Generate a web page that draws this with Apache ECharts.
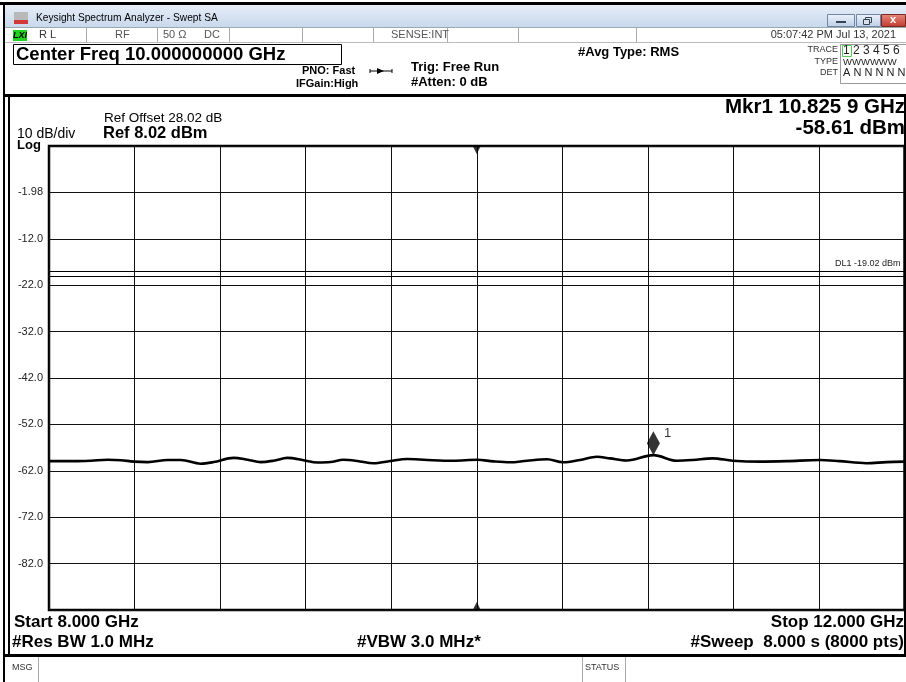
<!DOCTYPE html>
<html><head><meta charset="utf-8">
<script src="https://cdn.jsdelivr.net/npm/echarts@6/dist/echarts.min.js"></script>
<style>html,body{margin:0;padding:0;background:#fff}#c{width:906px;height:682px}</style>
</head><body><div id="c"></div>
<script>
// ---- data ----
const freqGHz = [8.0, 8.117, 8.196, 8.275, 8.336, 8.397, 8.462, 8.555, 8.616, 8.709, 8.770, 8.863, 8.929, 8.990, 9.050, 9.115, 9.190, 9.255, 9.316, 9.377, 9.442, 9.517, 9.596, 9.675, 9.769, 9.890, 10.002, 10.077, 10.156, 10.235, 10.329, 10.403, 10.483, 10.562, 10.623, 10.702, 10.8259, 10.935, 11.010, 11.103, 11.197, 11.323, 11.449, 11.603, 11.696, 11.822, 11.916, 12.0];
const levelDbm = [-59.9, -59.9, -59.8, -59.6, -59.7, -60.0, -60.1, -59.65, -59.65, -60.45, -60.1, -59.2, -59.6, -60.1, -59.8, -59.2, -59.7, -60.2, -60.1, -59.6, -59.85, -60.35, -59.85, -59.45, -59.65, -59.8, -59.6, -59.95, -60.15, -59.8, -59.5, -60.15, -59.65, -58.95, -59.3, -59.75, -58.61, -59.8, -59.65, -59.3, -59.8, -60.0, -59.9, -59.65, -59.9, -60.35, -60.1, -60.0];
const markerFreq = 10.8259;
const markerLevel = -58.61;
const displayLines = [-19.02, -19.95];
const refLevel = 8.02;
const dbPerDiv = 10;
const numDiv = 10;
const startGHz = 8, stopGHz = 12, centerGHz = 10;
const yTickLabels = ['-1.98', '-12.0', '-22.0', '-32.0', '-42.0', '-52.0', '-62.0', '-72.0', '-82.0'];

const chart = echarts.init(document.getElementById('c'), null, {renderer: 'canvas'});
const F = 'Liberation Sans, Arial, sans-serif';
function T(text, x, y, size, opts) {
  opts = opts || {};
  return {type: 'text', x: x, y: y, z: 100, silent: true, style: {
    text: text, font: (opts.w || 'normal') + ' ' + size + 'px ' + F,
    fill: opts.c || '#000', textAlign: opts.a || 'left', textVerticalAlign: 'middle'}};
}
function R(x, y, w, h, fill, stroke, lw) {
  return {type: 'rect', z: 90, silent: true, shape: {x: x, y: y, width: w, height: h},
    style: {fill: fill || 'none', stroke: stroke || 'none', lineWidth: lw || 1}};
}
function L(x1, y1, x2, y2, c, lw) {
  return {type: 'line', z: 90, silent: true, shape: {x1: x1, y1: y1, x2: x2, y2: y2},
    style: {stroke: c || '#000', lineWidth: lw || 1}};
}
const titleGrad = new echarts.graphic.LinearGradient(0, 0, 0, 1, [{offset: 0, color: '#e6eef8'}, {offset: 1, color: '#c9d8ec'}]);
const btnGrad = new echarts.graphic.LinearGradient(0, 0, 0, 1, [{offset: 0, color: '#eef3fa'}, {offset: 1, color: '#bccde5'}]);
const closeGrad = new echarts.graphic.LinearGradient(0, 0, 0, 1, [{offset: 0, color: '#e58b7e'}, {offset: 1, color: '#c0392b'}]);

const graphics = [
  // window frame
  R(0, 2, 906, 3, '#000'),
  R(3, 2, 2, 680, '#000'),
  R(5, 5, 901, 22, titleGrad),
  R(14, 12, 14, 8, '#b9b9b9'), R(14, 20, 14, 4, '#d23a3a'),
  T('Keysight Spectrum Analyzer - Swept SA', 36, 18, 10.2),
  R(827.5, 14.5, 27, 12, btnGrad, '#6f86a8'), R(836, 21, 10, 2, '#345'),
  R(856.5, 14.5, 24, 12, btnGrad, '#6f86a8'), R(865.5, 17.5, 6, 5, 'none', '#345'), R(863.5, 19.5, 6, 5, '#dde', '#345'),
  R(881.5, 14.5, 24, 12, closeGrad, '#7a2a22'),
  T('x', 893, 20, 11, {w: 'bold', c: '#fff', a: 'center'}),
  // status row
  R(5, 27, 901, 15, '#fff'),
  L(5, 27.5, 906, 27.5, '#9aa'), L(5, 42.5, 906, 42.5, '#bbb'),
  R(13, 30, 14, 11, '#1fd21f'),
  T('LXI', 20, 35.5, 9, {w: 'bold italic', a: 'center'}),
  T('R L', 39, 35, 11, {c: '#333'}),
  L(86.5, 28, 86.5, 42, '#aaa'), T('RF', 115, 35, 11, {c: '#555'}),
  L(157.5, 28, 157.5, 42, '#aaa'), T('50 Ω', 163, 35, 11, {c: '#555'}), T('DC', 204, 35, 11, {c: '#555'}),
  L(229.5, 28, 229.5, 42, '#aaa'), L(302.5, 28, 302.5, 42, '#aaa'), L(373.5, 28, 373.5, 42, '#aaa'),
  T('SENSE:INT', 391, 35, 11, {c: '#555'}),
  L(447.5, 28, 447.5, 42, '#aaa'), L(518.5, 28, 518.5, 42, '#aaa'), L(636.5, 28, 636.5, 42, '#aaa'),
  T('05:07:42 PM Jul 13, 2021', 896, 35, 11, {c: '#333', a: 'right'}),
  // header
  R(13.5, 44.5, 328, 20, 'none', '#000', 1),
  T('Center Freq 10.000000000 GHz', 16, 55, 18.5, {w: 'bold'}),
  T('PNO: Fast', 302, 71, 11, {w: 'bold'}),
  T('IFGain:High', 296, 84, 11, {w: 'bold'}),
  L(370, 71, 392, 71, '#000', 1), L(370, 69, 370, 73, '#000', 1), L(392, 69, 392, 73, '#000', 1),
  {type: 'polygon', z: 90, silent: true, shape: {points: [[377, 68], [377, 74], [384, 71]]}, style: {fill: '#000'}},
  T('Trig: Free Run', 411, 67, 13, {w: 'bold'}),
  T('#Atten: 0 dB', 411, 82, 13, {w: 'bold'}),
  T('#Avg Type: RMS', 578, 52, 13, {w: 'bold'}),
  T('TRACE', 838, 50, 9, {c: '#333', a: 'right'}),
  T('TYPE', 838, 62, 9, {c: '#333', a: 'right'}),
  T('DET', 838, 73, 9, {c: '#333', a: 'right'}),
  R(840.5, 44.5, 80, 39, 'none', '#999'),
  R(842.5, 45.5, 9, 11, 'none', '#5c5'),
  T('1 2 3 4 5 6', 843, 51, 12, {c: '#222'}),
  T('WWWWWW', 843, 62, 9.5, {c: '#222'}),
  T('A N N N N N', 843, 73, 11, {c: '#222'}),
  // panel frame
  R(5, 94, 901, 3, '#000'),
  R(8, 94, 2, 562, '#000'),
  R(904, 94, 2, 562, '#000'),
  R(5, 654, 901, 3, '#000'),
  T('10 dB/div', 17, 134, 14),
  T('Log', 17, 145, 13, {w: 'bold'}),
  T('Ref Offset 28.02 dB', 104, 118, 13.5),
  T('Ref 8.02 dBm', 103, 133, 16.5, {w: 'bold'}),
  T('Mkr1 10.825 9 GHz', 905, 107, 20.5, {w: 'bold', a: 'right'}),
  T('-58.61 dBm', 905, 128, 20.5, {w: 'bold', a: 'right'}),
  T('Start 8.000 GHz', 14, 622, 17, {w: 'bold'}),
  T('Stop 12.000 GHz', 904, 622, 17, {w: 'bold', a: 'right'}),
  T('#Res BW 1.0 MHz', 12, 642, 17, {w: 'bold'}),
  T('#VBW 3.0 MHz*', 357, 642, 17, {w: 'bold'}),
  T('#Sweep  8.000 s (8000 pts)', 904, 642, 17, {w: 'bold', a: 'right'}),
  // message row
  T('MSG', 12, 668, 9, {c: '#333'}),
  L(38.5, 657, 38.5, 682, '#aaa'),
  L(582.5, 657, 582.5, 682, '#aaa'),
  T('STATUS', 585, 668, 9, {c: '#333'}),
  L(625.5, 657, 625.5, 682, '#aaa')
];

const yMin = refLevel - dbPerDiv * numDiv;
const option = {
  animation: false,
  backgroundColor: '#fff',
  grid: {left: 49, top: 146, width: 855.5, height: 464, show: true, borderColor: '#000', borderWidth: 2.5, backgroundColor: 'transparent'},
  xAxis: {type: 'value', min: startGHz, max: stopGHz, interval: (stopGHz - startGHz) / numDiv,
    axisLine: {show: false}, axisTick: {show: false}, axisLabel: {show: false},
    splitLine: {show: true, lineStyle: {color: '#111', width: 1}}},
  yAxis: {type: 'value', min: yMin, max: refLevel, interval: dbPerDiv,
    axisLine: {show: false}, axisTick: {show: false},
    axisLabel: {show: true, margin: 6, fontFamily: F, fontSize: 11, color: '#222',
      formatter: function (v) { const i = Math.round((refLevel - v) / dbPerDiv) - 1; return yTickLabels[i] || ''; }},
    splitLine: {show: true, lineStyle: {color: '#111', width: 1}}},
  graphic: graphics,
  series: [
    {type: 'line', data: freqGHz.map((f, i) => [f, levelDbm[i]]), showSymbol: false, smooth: 0.35,
      lineStyle: {color: '#000', width: 2.6}, z: 5,
      markLine: {silent: true, symbol: ['none', 'none'], animation: false,
        lineStyle: {color: '#000', width: 1, type: 'solid'},
        data: displayLines.map((v, i) => ({yAxis: v, label: {show: i === 0, position: 'insideEndTop',
          formatter: 'DL1 ' + v.toFixed(2) + ' dBm', fontFamily: F, fontSize: 9, color: '#222', distance: [4, 3]}}))}},
    {type: 'scatter', data: [[markerFreq, markerLevel]], symbol: 'diamond', symbolSize: [13, 24], symbolOffset: [0, -12],
      itemStyle: {color: '#000'}, z: 6, clip: false,
      label: {show: true, formatter: '1', position: 'right', offset: [-1, -10], fontFamily: F, fontSize: 13, color: '#000'}},
    {type: 'scatter', symbol: 'triangle', symbolSize: [8, 8], itemStyle: {color: '#000'}, z: 6, clip: false,
      data: [{value: [centerGHz, refLevel], symbolRotate: 180, symbolOffset: [0, 4]},
             {value: [centerGHz, yMin], symbolOffset: [0, -4]}]}
  ]
};
chart.setOption(option);
</script>
</body></html>
